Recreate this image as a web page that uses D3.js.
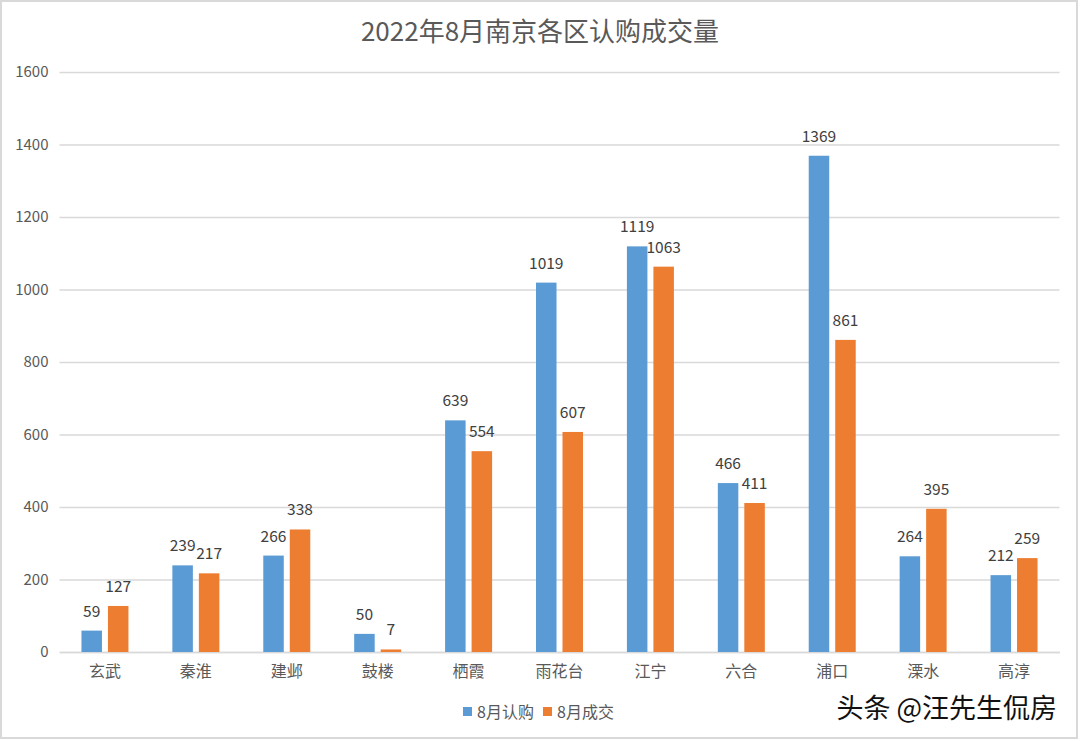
<!DOCTYPE html>
<html>
<head>
<meta charset="utf-8">
<script src="https://cdn.jsdelivr.net/npm/d3@7"></script>
<style>
  body { margin: 0; background: #fff; }
  svg { display: block; font-family: "Noto Sans CJK SC", "Noto Sans", sans-serif; }
</style>
</head>
<body>
<svg id="chart" width="1080" height="741"></svg>
<script>
// data
const districts = ["玄武", "秦淮", "建邺", "鼓楼", "栖霞", "雨花台", "江宁", "六合", "浦口", "溧水", "高淳"];
const subscribed = [59, 239, 266, 50, 639, 1019, 1119, 466, 1369, 264, 212];
const closed = [127, 217, 338, 7, 554, 607, 1063, 411, 861, 395, 259];
const seriesNames = ["8月认购", "8月成交"];
const yTicks = [0, 200, 400, 600, 800, 1000, 1200, 1400, 1600];
const titleText = "2022年8月南京各区认购成交量";
const watermark = "头条 @汪先生侃房";

const colors = ["#5B9BD5", "#ED7D31"];

const svg = d3.select("#chart");
const m = {left: 59.5, right: 1059.5, top: 72, bottom: 652};

// outer frame
svg.append("rect")
  .attr("x", 1).attr("y", 1)
  .attr("width", 1076).attr("height", 737)
  .attr("fill", "#fff")
  .attr("stroke", "#d9d9d9")
  .attr("stroke-width", 2);

// scales
const x0 = d3.scaleBand().domain(districts).range([m.left, m.right]).padding(0);
const groupW = 47;
const x1 = d3.scaleBand().domain([0, 1])
  .range([(x0.bandwidth() - groupW) / 2, (x0.bandwidth() + groupW) / 2])
  .paddingInner(0.226);
const y = d3.scaleLinear().domain([0, 1600]).range([m.bottom, m.top]);

// y axis + grid
const yAxis = svg.append("g")
  .attr("transform", `translate(${m.left},0)`)
  .call(d3.axisLeft(y).tickValues(yTicks).tickFormat(d3.format("d"))
    .tickSize(-(m.right - m.left)).tickPadding(11));
yAxis.select(".domain").remove();
yAxis.selectAll(".tick line").attr("stroke", "#d9d9d9").attr("stroke-width", 1.5);
yAxis.selectAll(".tick text")
  .attr("fill", "#595959")
  .style("font-size", "15px")
  .style("font-family", "\"Noto Sans CJK SC\", sans-serif");

// x axis
const xAxis = svg.append("g")
  .attr("transform", `translate(0,${m.bottom})`)
  .call(d3.axisBottom(x0).tickSize(0).tickPadding(14));
xAxis.select(".domain").attr("stroke", "#d9d9d9").attr("stroke-width", 1.5);
xAxis.selectAll(".tick text")
  .attr("fill", "#595959")
  .style("font-size", "16px")
  .style("font-family", "\"Noto Sans CJK SC\", sans-serif");

// bars
const rows = districts.map((d, i) => ({name: d, vals: [subscribed[i], closed[i]]}));
const groups = svg.append("g").selectAll("g")
  .data(rows).join("g")
  .attr("transform", d => `translate(${x0(d.name)},0)`);

groups.selectAll("rect")
  .data(d => d.vals.map((v, k) => ({k, v})))
  .join("rect")
  .attr("x", d => x1(d.k))
  .attr("width", x1.bandwidth())
  .attr("y", d => y(d.v))
  .attr("height", d => y(0) - y(d.v))
  .attr("fill", d => colors[d.k]);

groups.selectAll("text.lbl")
  .data(d => d.vals.map((v, k) => ({k, v})))
  .join("text")
  .attr("class", "lbl")
  .attr("x", d => x1(d.k) + x1.bandwidth() / 2)
  .attr("y", d => y(d.v) - 14)
  .attr("text-anchor", "middle")
  .attr("fill", "#404040")
  .style("font-size", "15.5px")
  .text(d => d.v);

// title
svg.append("text")
  .attr("x", 540).attr("y", 41)
  .attr("text-anchor", "middle")
  .attr("fill", "#595959")
  .style("font-size", "26px")
  .text(titleText);

// legend
const legend = svg.append("g").attr("transform", "translate(463,712)");
let lx = 0;
seriesNames.forEach((s, k) => {
  legend.append("rect")
    .attr("x", lx).attr("y", -5)
    .attr("width", 9).attr("height", 9)
    .attr("fill", colors[k]);
  legend.append("text")
    .attr("x", lx + 14).attr("y", 5.5)
    .attr("fill", "#595959")
    .style("font-size", "16px")
    .text(s);
  lx += 80;
});

// watermark
svg.append("text")
  .attr("x", 1057).attr("y", 718)
  .attr("text-anchor", "end")
  .attr("fill", "#111")
  .attr("stroke", "#fff")
  .attr("stroke-width", 3)
  .attr("paint-order", "stroke")
  .style("font-size", "27px")
  .text(watermark);
</script>
</body>
</html>
